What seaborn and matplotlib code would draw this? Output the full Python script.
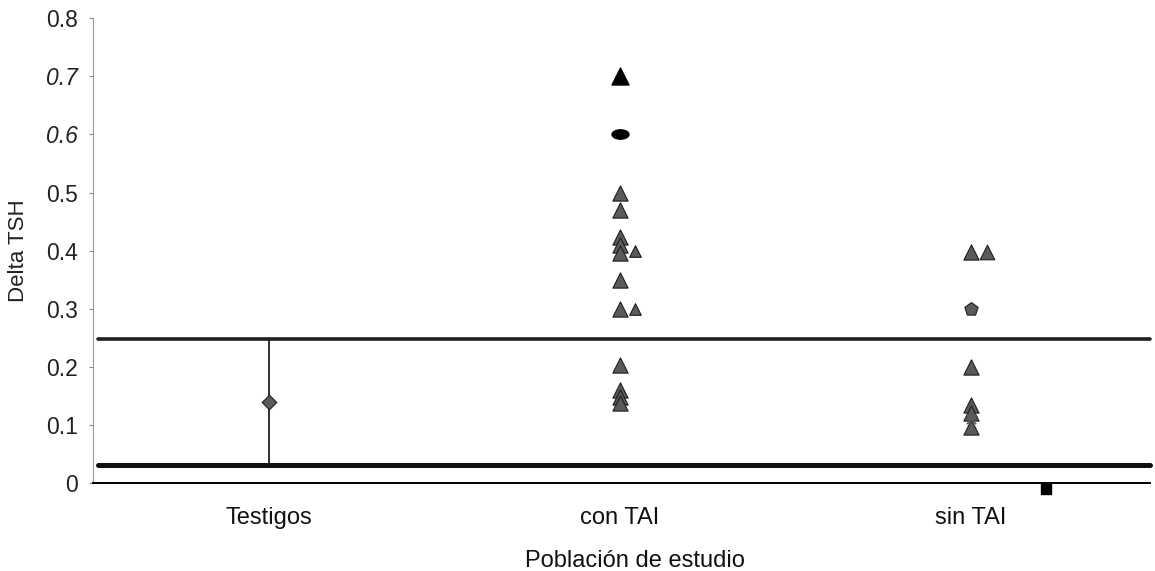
import numpy as np
import pandas as pd
import seaborn as sns
import matplotlib.pyplot as plt
from matplotlib.path import Path
from matplotlib.transforms import Affine2D

grupos = ['Testigos', 'con TAI', 'sin TAI']

# con TAI
con_tai = [0.50, 0.47, 0.423, 0.41, 0.396, 0.35, 0.30, 0.203, 0.16, 0.148, 0.138]
con_tai_lado = [0.40, 0.30]
con_tai_max = 0.70
con_tai_ovalo = 0.60

# sin TAI
sin_tai = [0.398, 0.20, 0.134, 0.12, 0.096]
sin_tai_lado = [0.398]
sin_tai_pent = [0.30]
sin_tai_x = [0.11]

# testigos: media y rango
testigos_media = 0.14
testigos_min = 0.033
testigos_max = 0.247

# lineas de referencia
limite_sup = 0.248
limite_inf = 0.031

# punto suelto
cuadro_x = 2.215
cuadro_y = -0.01

sns.set_style("white")
plt.rcParams['font.family'] = ['Liberation Sans', 'DejaVu Sans']

fig = plt.figure(figsize=(11.55, 5.71), dpi=100)
ax = fig.add_axes([0.0805, 0.154, 0.9152, 0.814])

gris = '#5a5a5a'
borde = '#1e1e1e'

ovalo = Path.unit_circle().transformed(Affine2D().scale(1.0, 0.55))

def puntos(vals, grupo, dx=0.0):
    x = grupos.index(grupo) + dx
    return pd.DataFrame({'x': [x] * len(vals), 'y': vals})

ax.axhline(limite_sup, xmin=0.005, xmax=1, color='#202020', lw=2.6, zorder=1, clip_on=False)
ax.axhline(limite_inf, xmin=0.005, xmax=1, color='#101010', lw=3.6, zorder=1, clip_on=False)

# testigos
ax.vlines(grupos.index('Testigos'), testigos_min, testigos_max, color='#202020', lw=1.3, zorder=2)
sns.scatterplot(data=puntos([testigos_media], 'Testigos'), x='x', y='y', marker='D',
                s=55, color=gris, edgecolor=borde, linewidth=0.8, ax=ax, zorder=3)

# con TAI
sns.scatterplot(data=puntos(con_tai, 'con TAI'), x='x', y='y', marker='^',
                s=120, color=gris, edgecolor=borde, linewidth=0.8, ax=ax, zorder=3)
sns.scatterplot(data=puntos(con_tai_lado, 'con TAI', 0.043), x='x', y='y', marker='^',
                s=70, color=gris, edgecolor=borde, linewidth=0.8, ax=ax, zorder=3)
sns.scatterplot(data=puntos([con_tai_max], 'con TAI'), x='x', y='y', marker='^',
                s=150, color='black', edgecolor='black', ax=ax, zorder=3)
sns.scatterplot(data=puntos([con_tai_ovalo], 'con TAI'), x='x', y='y', marker=ovalo,
                s=150, color='black', edgecolor='black', ax=ax, zorder=3)

# sin TAI
sns.scatterplot(data=puntos(sin_tai, 'sin TAI'), x='x', y='y', marker='^',
                s=120, color=gris, edgecolor=borde, linewidth=0.8, ax=ax, zorder=3)
sns.scatterplot(data=puntos(sin_tai_lado, 'sin TAI', 0.045), x='x', y='y', marker='^',
                s=110, color=gris, edgecolor=borde, linewidth=0.8, ax=ax, zorder=3)
sns.scatterplot(data=puntos(sin_tai_pent, 'sin TAI'), x='x', y='y', marker='p',
                s=100, color=gris, edgecolor=borde, linewidth=0.8, ax=ax, zorder=3)
sns.scatterplot(data=puntos(sin_tai_x, 'sin TAI'), x='x', y='y', marker='x',
                s=45, color=gris, linewidth=1.2, ax=ax, zorder=3)

ax.scatter([cuadro_x], [cuadro_y], marker='s', s=45, color='black', clip_on=False, zorder=4)

ax.set_xlim(-0.5, 2.51)
ax.set_ylim(0, 0.8)
ax.set_xticks(range(len(grupos)))
ax.set_xticklabels(grupos, fontsize=17, color='#111111')
ax.set_yticks(np.arange(0, 0.81, 0.1))
ylabels = ['0', '0.1', '0.2', '0.3', '0.4', '0.5', '0.6', '0.7', '0.8']
ax.set_yticklabels(ylabels, fontsize=16.5, color='#222222')
for t in ax.get_yticklabels():
    if t.get_text() in ('0.6', '0.7'):
        t.set_fontstyle('italic')
ax.tick_params(axis='y', direction='out', length=3, width=0.8, color='#888888', pad=8, left=True)
ax.tick_params(axis='x', length=0, pad=17)

ax.set_xlabel('Población de estudio', fontsize=17, color='#111111')
ax.xaxis.set_label_coords(0.513, -0.143)
ax.set_ylabel('Delta TSH', fontsize=16, labelpad=12, color='#222222')

for s in ['top', 'right']:
    ax.spines[s].set_visible(False)
ax.spines['left'].set_color('#999999')
ax.spines['left'].set_linewidth(0.8)
ax.spines['bottom'].set_color('black')
ax.spines['bottom'].set_linewidth(1.4)

plt.savefig('out.png', dpi=100)
